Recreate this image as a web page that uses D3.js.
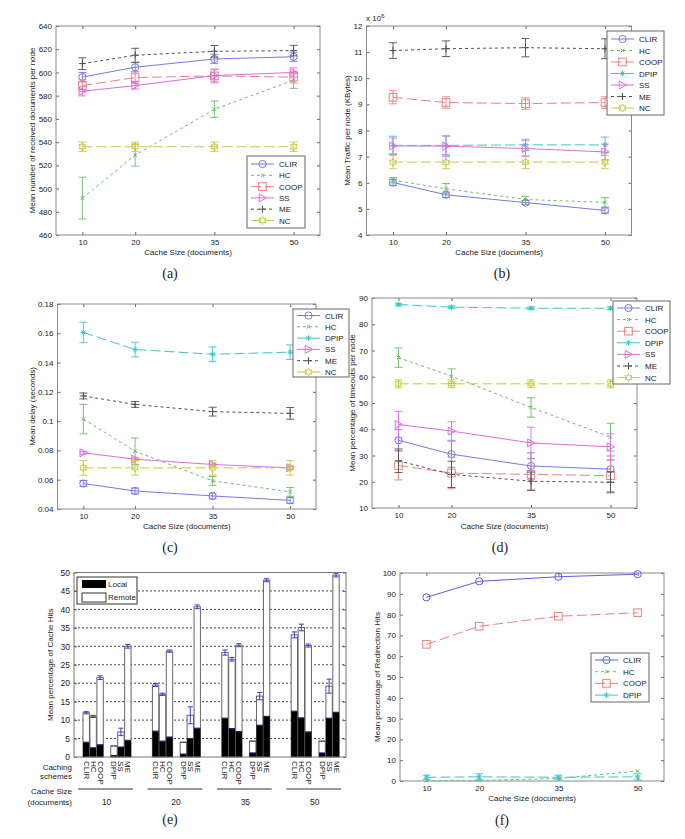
<!DOCTYPE html>
<html><head><meta charset="utf-8">
<script src="https://cdn.jsdelivr.net/npm/d3@7"></script>
<style>body{margin:0;background:#fff}svg{display:block}text{font-family:"Liberation Sans",Arial,sans-serif;fill:#222}</style>
</head><body><svg id="c" width="685" height="839"></svg>
<script>
// ---------- DATA ----------
const cacheSizes = [10, 20, 35, 50];

// (a) Mean number of received documents per node
const recvCLIR = [596, 604.5, 611.6, 613.5], recvCLIRerr = [4, 4, 4, 4];
const recvHC = [491.8, 528.8, 568.3, 593.3], recvHCerr = [18, 9.5, 7, 7];
const recvCOOP = [588.7, 595.6, 597, 596], recvCOOPerr = [5, 5, 6, 5];
const recvSS = [583.8, 588.7, 597.3, 600], recvSSerr = [4, 3, 5, 4];
const recvME = [607.6, 614.8, 618.2, 618.8], recvMEerr = [5, 6, 5, 4.5];
const recvNC = [536, 536, 536, 536], recvNCerr = [4, 4, 4, 4];

// (b) Mean traffic per node (x10^6 KBytes)
const trafCLIR = [6.01, 5.54, 5.24, 4.94], trafCLIRerr = [0.12, 0.1, 0.08, 0.1];
const trafHC = [6.10, 5.77, 5.36, 5.25], trafHCerr = [0.1, 0.2, 0.12, 0.18];
const trafCOOP = [9.27, 9.07, 9.03, 9.07], trafCOOPerr = [0.25, 0.22, 0.22, 0.22];
const trafDPIP = [7.43, 7.43, 7.45, 7.45], trafDPIPerr = [0.35, 0.35, 0.22, 0.3];
const trafSS = [7.41, 7.40, 7.31, 7.18], trafSSerr = [0.3, 0.4, 0.3, 0.3];
const trafME = [11.06, 11.13, 11.17, 11.13], trafMEerr = [0.3, 0.3, 0.35, 0.38];
const trafNC = [6.79, 6.79, 6.79, 6.79], trafNCerr = [0.25, 0.25, 0.25, 0.25];

// (c) Mean delay (seconds)
const delCLIR = [0.0574, 0.0523, 0.0489, 0.0459], delCLIRerr = [0.002, 0.002, 0.002, 0.002];
const delHC = [0.1014, 0.0795, 0.0592, 0.0517], delHCerr = [0.01, 0.009, 0.003, 0.003];
const delDPIP = [0.1606, 0.1489, 0.1457, 0.1471], delDPIPerr = [0.007, 0.005, 0.005, 0.005];
const delSS = [0.0784, 0.0740, 0.0704, 0.0681], delSSerr = [0.001, 0.001, 0.001, 0.001];
const delME = [0.1172, 0.1114, 0.1065, 0.1053], delMEerr = [0.002, 0.002, 0.003, 0.004];
const delNC = [0.0681, 0.0681, 0.0681, 0.0681], delNCerr = [0.005, 0.005, 0.005, 0.005];

// (d) Mean percentage of timeouts per node
const toCLIR = [35.8, 30.5, 26.0, 24.8], toCLIRerr = [4, 5, 5, 5];
const toHC = [67.3, 60.2, 48.3, 37.0], toHCerr = [3.7, 2.8, 3.7, 5.3];
const toCOOP = [26.2, 23.3, 22.8, 22.3], toCOOPerr = [5.5, 6, 6, 6];
const toDPIP = [87.5, 86.5, 86.1, 86.1], toDPIPerr = [0.5, 0.5, 0.5, 0.5];
const toSS = [41.8, 39.3, 34.8, 33.3], toSSerr = [5, 3.5, 6, 5];
const toME = [28, 22.8, 20.2, 19.8], toMEerr = [4.5, 5, 3.5, 4];
const toNC = [57.3, 57.3, 57.3, 57.3], toNCerr = [1.5, 1.5, 1.5, 1.5];

// (e) Mean percentage of cache hits (local part and total = local + remote)
const hitSchemes = ["CLIR", "HC", "COOP", "DPIP", "SS", "ME"];
const hitGroups = ["10", "20", "35", "50"];
const hitLocal10 = [4, 2.5, 3.3, 0.4, 2.7, 4.5];
const hitTotal10 = [12, 11, 21.5, 3, 6.8, 30];
const hitLocal20 = [7, 4.3, 5.4, 0.8, 5, 7.8];
const hitTotal20 = [19.5, 17, 28.7, 4, 11.3, 40.7];
const hitLocal35 = [10.5, 7.7, 6.9, 1.1, 8.6, 11];
const hitTotal35 = [28.3, 26.5, 30.3, 4.3, 16.5, 47.9];
const hitLocal50 = [12.4, 10.6, 6.8, 1.1, 10.5, 12.1];
const hitTotal50 = [33.1, 35.1, 30.2, 4.3, 19.2, 49.3];
const hitErr10 = [0.3, 0.3, 0.5, 0, 1.0, 0.5];
const hitErr20 = [0.4, 0.3, 0.3, 0, 2.3, 0.5];
const hitErr35 = [0.7, 0.5, 0.4, 0, 1.0, 0.4];
const hitErr50 = [0.8, 0.9, 0.4, 0, 1.9, 0.5];

// (f) Mean percentage of redirection hits
const redCLIR = [88.3, 96, 98.2, 99.4];
const redHC = [0.2, 0.3, 1.2, 4.8];
const redCOOP = [65.7, 74.4, 79.2, 80.9];
const redDPIP = [1.8, 2.0, 1.8, 2.0], redDPIPerr = [1, 1.5, 1, 1.5];

// ---------- STYLE ----------
const STY = {
  CLIR: {color: '#7878e8', dash: null, marker: 'circle'},
  HC:   {color: '#6cbb6c', dash: '3,3', marker: 'x'},
  COOP: {color: '#ec8080', dash: '10,4', marker: 'square'},
  DPIP: {color: '#3ec6c6', dash: '10,4', marker: 'star'},
  SS:   {color: '#dc6edc', dash: null, marker: 'tri'},
  ME:   {color: '#505050', dash: '3,3', marker: 'plus'},
  NC:   {color: '#c8c83e', dash: '10,4', marker: 'hex'}
};

const svg = d3.select('#c');
svg.append('rect').attr('width', 685).attr('height', 839).attr('fill', '#fff');

function drawMarker(g, type, cx, cy, color) {
  let d;
  switch (type) {
    case 'circle':
      g.append('circle').attr('cx', cx).attr('cy', cy).attr('r', 3.6)
        .attr('fill', 'none').attr('stroke', color); return;
    case 'square':
      g.append('rect').attr('x', cx - 3.8).attr('y', cy - 3.8).attr('width', 7.6).attr('height', 7.6)
        .attr('fill', 'none').attr('stroke', color); return;
    case 'tri': d = `M${cx - 3.3},${cy - 4}L${cx + 4},${cy}L${cx - 3.3},${cy + 4}Z`; break;
    case 'x': d = `M${cx - 1.8},${cy - 1.8}L${cx + 1.8},${cy + 1.8}M${cx - 1.8},${cy + 1.8}L${cx + 1.8},${cy - 1.8}`; break;
    case 'plus': d = `M${cx - 3.5},${cy}H${cx + 3.5}M${cx},${cy - 3.5}V${cy + 3.5}`; break;
    case 'star': d = `M${cx - 2.8},${cy}H${cx + 2.8}M${cx},${cy - 2.8}V${cy + 2.8}M${cx - 2},${cy - 2}L${cx + 2},${cy + 2}M${cx - 2},${cy + 2}L${cx + 2},${cy - 2}`; break;
    case 'hex': {
      const pts = [];
      for (let i = 0; i < 12; i++) {
        const r = i % 2 ? 2.2 : 4, a = Math.PI / 6 * i - Math.PI / 2;
        pts.push([cx + r * Math.cos(a), cy + r * Math.sin(a)]);
      }
      d = 'M' + pts.map(p => p.join(',')).join('L') + 'Z'; break;
    }
  }
  g.append('path').attr('d', d).attr('fill', 'none').attr('stroke', color);
}

function lineChart(cfg) {
  const g = svg.append('g');
  const x = d3.scaleLinear().domain([5, 55]).range([cfg.l, cfg.r]);
  const y = d3.scaleLinear().domain(cfg.yDomain).range([cfg.b, cfg.t]);
  const axisStyle = sel => {
    sel.select('.domain').remove();
    sel.selectAll('line').attr('stroke', '#666');
    sel.selectAll('text').attr('font-size', 8).attr('fill', '#222')
      .attr('font-family', '"Liberation Sans",Arial,sans-serif');
  };
  g.append('g').attr('transform', `translate(${cfg.l},0)`)
    .call(d3.axisLeft(y).tickValues(cfg.yTicks).tickSize(-3).tickPadding(4).tickFormat(cfg.yFormat || (v => String(v))))
    .call(axisStyle);
  g.append('g').attr('transform', `translate(${cfg.r},0)`)
    .call(d3.axisRight(y).tickValues(cfg.yTicks).tickSize(-3).tickFormat(''))
    .call(axisStyle);
  g.append('g').attr('transform', `translate(0,${cfg.b})`)
    .call(d3.axisBottom(x).tickValues(cacheSizes).tickSize(-3).tickPadding(4).tickFormat(d3.format('d')))
    .call(axisStyle);
  g.append('g').attr('transform', `translate(0,${cfg.t})`)
    .call(d3.axisTop(x).tickValues(cacheSizes).tickSize(-3).tickFormat(''))
    .call(axisStyle);
  g.append('rect').attr('x', cfg.l).attr('y', cfg.t).attr('width', cfg.r - cfg.l).attr('height', cfg.b - cfg.t)
    .attr('fill', 'none').attr('stroke', '#8a8a8a');

  const line = d3.line().x(d => x(d[0])).y(d => y(d[1]));
  cfg.series.forEach(s => {
    const st = STY[s.name];
    const col = s.color || st.color;
    const pts = cacheSizes.map((c, i) => [c, s.values[i]]);
    g.append('path').attr('d', line(pts)).attr('fill', 'none').attr('stroke', col)
      .attr('stroke-width', 1).attr('stroke-dasharray', st.dash);
    if (s.errs) {
      pts.forEach((p, i) => {
        const e = s.errs[i]; if (!e) return;
        const px = x(p[0]), y1 = y(p[1] - e), y2 = y(p[1] + e);
        g.append('path').attr('d', `M${px},${y1}V${y2}M${px - 4},${y1}H${px + 4}M${px - 4},${y2}H${px + 4}`)
          .attr('stroke', col).attr('fill', 'none').attr('stroke-width', 0.9);
      });
    }
    pts.forEach(p => drawMarker(g, st.marker, x(p[0]), y(p[1]), col));
  });

  // legend
  const L = cfg.legend;
  g.append('rect').attr('x', L.x).attr('y', L.y).attr('width', L.w).attr('height', L.h)
    .attr('fill', '#fff').attr('stroke', '#666');
  cfg.series.forEach((s, i) => {
    const st = STY[s.name];
    const col = s.color || st.color;
    const ly = L.y + L.first + i * L.dy;
    g.append('line').attr('x1', L.x + 4).attr('x2', L.x + 27).attr('y1', ly).attr('y2', ly)
      .attr('stroke', col).attr('stroke-dasharray', st.dash);
    drawMarker(g, st.marker, L.x + 15.5, ly, col);
    g.append('text').attr('x', L.x + 32).attr('y', ly + 3).attr('font-size', 8).text(s.name);
  });

  // labels
  g.append('text').attr('x', (cfg.l + cfg.r) / 2).attr('y', cfg.xlabelY).attr('text-anchor', 'middle')
    .attr('font-size', 8).text('Cache Size (documents)');
  g.append('text').attr('transform', `translate(${cfg.ylabelX},${(cfg.t + cfg.b) / 2}) rotate(-90)`)
    .attr('text-anchor', 'middle').attr('font-size', 8).text(cfg.ylabel);
  svg.append('text').attr('x', cfg.capX).attr('y', cfg.capY).attr('text-anchor', 'middle')
    .attr('font-size', 14).style('font-family', '"Liberation Serif","Times New Roman",serif').text(cfg.caption);
  return g;
}

// (a)
lineChart({
  l: 56, r: 320, t: 26, b: 235, yDomain: [460, 640], yTicks: d3.range(460, 641, 20),
  series: [
    {name: 'CLIR', values: recvCLIR, errs: recvCLIRerr},
    {name: 'HC', values: recvHC, errs: recvHCerr},
    {name: 'COOP', values: recvCOOP, errs: recvCOOPerr},
    {name: 'SS', values: recvSS, errs: recvSSerr},
    {name: 'ME', values: recvME, errs: recvMEerr},
    {name: 'NC', values: recvNC, errs: recvNCerr}
  ],
  legend: {x: 247, y: 156, w: 58, h: 72, first: 8, dy: 11.3},
  ylabel: 'Mean number of received documents per node', ylabelX: 35, xlabelY: 255,
  caption: '(a)', capX: 170, capY: 278
});

// (b)
lineChart({
  l: 366.5, r: 631.5, t: 26, b: 235, yDomain: [4, 12], yTicks: d3.range(4, 13, 1),
  series: [
    {name: 'CLIR', values: trafCLIR, errs: trafCLIRerr},
    {name: 'HC', values: trafHC, errs: trafHCerr},
    {name: 'COOP', values: trafCOOP, errs: trafCOOPerr},
    {name: 'DPIP', values: trafDPIP, errs: trafDPIPerr},
    {name: 'SS', values: trafSS, errs: trafSSerr},
    {name: 'ME', values: trafME, errs: trafMEerr},
    {name: 'NC', values: trafNC, errs: trafNCerr}
  ],
  legend: {x: 607, y: 31, w: 57, h: 84, first: 8, dy: 11.5},
  ylabel: 'Mean Traffic per node (KBytes)', ylabelX: 350, xlabelY: 255,
  caption: '(b)', capX: 502, capY: 278
});
const exp = svg.append('text').attr('x', 366).attr('y', 21).attr('font-size', 8);
exp.append('tspan').text('x 10');
exp.append('tspan').attr('dy', -3).attr('font-size', 6).text('6');

// (c)
lineChart({
  l: 57.5, r: 316, t: 304, b: 509, yDomain: [0.04, 0.18], yTicks: d3.range(0.04, 0.181, 0.02),
  yFormat: v => String(+v.toFixed(2)),
  series: [
    {name: 'CLIR', values: delCLIR, errs: delCLIRerr},
    {name: 'HC', values: delHC, errs: delHCerr},
    {name: 'DPIP', values: delDPIP, errs: delDPIPerr},
    {name: 'SS', values: delSS, errs: delSSerr},
    {name: 'ME', values: delME, errs: delMEerr},
    {name: 'NC', values: delNC, errs: delNCerr}
  ],
  legend: {x: 293, y: 309, w: 56, h: 68, first: 6.5, dy: 11.3},
  ylabel: 'Mean delay (seconds)', ylabelX: 35, xlabelY: 529,
  caption: '(c)', capX: 170, capY: 552
});

// (d)
lineChart({
  l: 372, r: 637, t: 298, b: 508, yDomain: [10, 90], yTicks: d3.range(10, 91, 10),
  series: [
    {name: 'CLIR', values: toCLIR, errs: toCLIRerr},
    {name: 'HC', values: toHC, errs: toHCerr},
    {name: 'COOP', values: toCOOP, errs: toCOOPerr},
    {name: 'DPIP', values: toDPIP, errs: toDPIPerr},
    {name: 'SS', values: toSS, errs: toSSerr},
    {name: 'ME', values: toME, errs: toMEerr},
    {name: 'NC', values: toNC, errs: toNCerr}
  ],
  legend: {x: 613, y: 301, w: 57, h: 83, first: 7, dy: 11.6},
  ylabel: 'Mean percentage of timeouts per node', ylabelX: 355, xlabelY: 529,
  caption: '(d)', capX: 500, capY: 552
});

// (f)
lineChart({
  l: 400, r: 664, t: 573, b: 781, yDomain: [0, 100], yTicks: d3.range(0, 101, 10),
  series: [
    {name: 'CLIR', values: redCLIR, color: '#5c5ce0'},
    {name: 'HC', values: redHC},
    {name: 'COOP', values: redCOOP},
    {name: 'DPIP', values: redDPIP, errs: redDPIPerr}
  ],
  legend: {x: 591, y: 653, w: 58, h: 49, first: 7, dy: 11.7},
  ylabel: 'Mean percentage of Redirection Hits', ylabelX: 380, xlabelY: 801,
  caption: '(f)', capX: 502, capY: 825
});

// (e) stacked bar chart
(function () {
  const l = 74, r = 346, t = 572.5, b = 757;
  const g = svg.append('g');
  const y = d3.scaleLinear().domain([0, 50]).range([b, t]);
  const xs = d3.scaleLinear().domain([-1.3, 37.9]).range([l, r]);
  const slotOf = [0, 1, 2, 4, 5, 6];
  const locals = [hitLocal10, hitLocal20, hitLocal35, hitLocal50];
  const totals = [hitTotal10, hitTotal20, hitTotal35, hitTotal50];
  const errs = [hitErr10, hitErr20, hitErr35, hitErr50];
  const ticks = d3.range(0, 51, 5);

  // dotted grid
  ticks.filter(v => v > 0 && v < 50).forEach(v => {
    g.append('line').attr('x1', l).attr('x2', r).attr('y1', y(v)).attr('y2', y(v))
      .attr('stroke', '#333').attr('stroke-dasharray', '2,2').attr('stroke-width', 0.9);
  });
  const bw = xs(0.92) - xs(0);
  hitGroups.forEach((gr, gi) => {
    hitSchemes.forEach((s, si) => {
      const x0 = xs(gi * 10 + slotOf[si]);
      const tot = totals[gi][si], loc = locals[gi][si], e = errs[gi][si];
      g.append('rect').attr('x', x0).attr('y', y(tot)).attr('width', bw).attr('height', y(0) - y(tot))
        .attr('fill', '#fff').attr('stroke', '#666').attr('stroke-width', 1);
      g.append('rect').attr('x', x0).attr('y', y(loc)).attr('width', bw).attr('height', y(0) - y(loc))
        .attr('fill', '#000');
      g.append('line').attr('x1', x0).attr('x2', x0 + bw).attr('y1', y(loc)).attr('y2', y(loc))
        .attr('stroke', '#22227a').attr('stroke-width', 1.2);
      const cx = x0 + bw / 2;
      if (e > 0) {
        g.append('path').attr('d', `M${cx},${y(tot - e)}V${y(tot + e)}M${cx - 2.6},${y(tot - e)}H${cx + 2.6}M${cx - 2.6},${y(tot + e)}H${cx + 2.6}`)
          .attr('stroke', '#3a3ad8').attr('fill', 'none').attr('stroke-width', 1);
      } else {
        g.append('line').attr('x1', x0).attr('x2', x0 + bw).attr('y1', y(tot)).attr('y2', y(tot)).attr('stroke', '#444');
      }
      g.append('text').attr('transform', `translate(${cx},761) rotate(90)`)
        .attr('dominant-baseline', 'central').attr('font-size', 8).text(s);
    });
    g.append('line').attr('x1', xs(gi * 10 - 0.7)).attr('x2', xs(gi * 10 + 7.2)).attr('y1', 789).attr('y2', 789)
      .attr('stroke', '#333');
    g.append('text').attr('x', xs(gi * 10 + 3.4)).attr('y', 805).attr('text-anchor', 'middle')
      .attr('font-size', 8.5).text(gr);
  });
  const axisStyle = sel => {
    sel.select('.domain').remove();
    sel.selectAll('line').attr('stroke', '#666');
    sel.selectAll('text').attr('font-size', 8.5).attr('fill', '#222')
      .attr('font-family', '"Liberation Sans",Arial,sans-serif');
  };
  g.append('g').attr('transform', `translate(${l},0)`)
    .call(d3.axisLeft(y).tickValues(ticks).tickSize(-3).tickPadding(4).tickFormat(d3.format('d'))).call(axisStyle);
  g.append('g').attr('transform', `translate(${r},0)`)
    .call(d3.axisRight(y).tickValues(ticks).tickSize(-3).tickFormat('')).call(axisStyle);
  g.append('rect').attr('x', l).attr('y', t).attr('width', r - l).attr('height', b - t)
    .attr('fill', 'none').attr('stroke', '#777');

  // legend
  g.append('rect').attr('x', 77).attr('y', 577).attr('width', 60).attr('height', 27).attr('fill', '#fff').attr('stroke', '#333');
  g.append('rect').attr('x', 82).attr('y', 580).attr('width', 24).attr('height', 8).attr('fill', '#000');
  g.append('rect').attr('x', 82).attr('y', 593).attr('width', 24).attr('height', 9).attr('fill', '#fff').attr('stroke', '#333');
  g.append('text').attr('x', 108).attr('y', 587).attr('font-size', 8).text('Local');
  g.append('text').attr('x', 108).attr('y', 600).attr('font-size', 8).text('Remote');

  // left-side labels
  [['Caching', 769.5], ['schemes', 779], ['Cache Size', 794], ['(documents)', 805]].forEach(([t_, yy]) => {
    g.append('text').attr('x', 72).attr('y', yy).attr('text-anchor', 'end').attr('font-size', 8).text(t_);
  });
  g.append('text').attr('transform', `translate(53,${(t + b) / 2}) rotate(-90)`)
    .attr('text-anchor', 'middle').attr('font-size', 8).text('Mean percentage of Cache Hits');
  svg.append('text').attr('x', 170).attr('y', 824).attr('text-anchor', 'middle')
    .attr('font-size', 14).style('font-family', '"Liberation Serif","Times New Roman",serif').text('(e)');
})();
</script></body></html>
